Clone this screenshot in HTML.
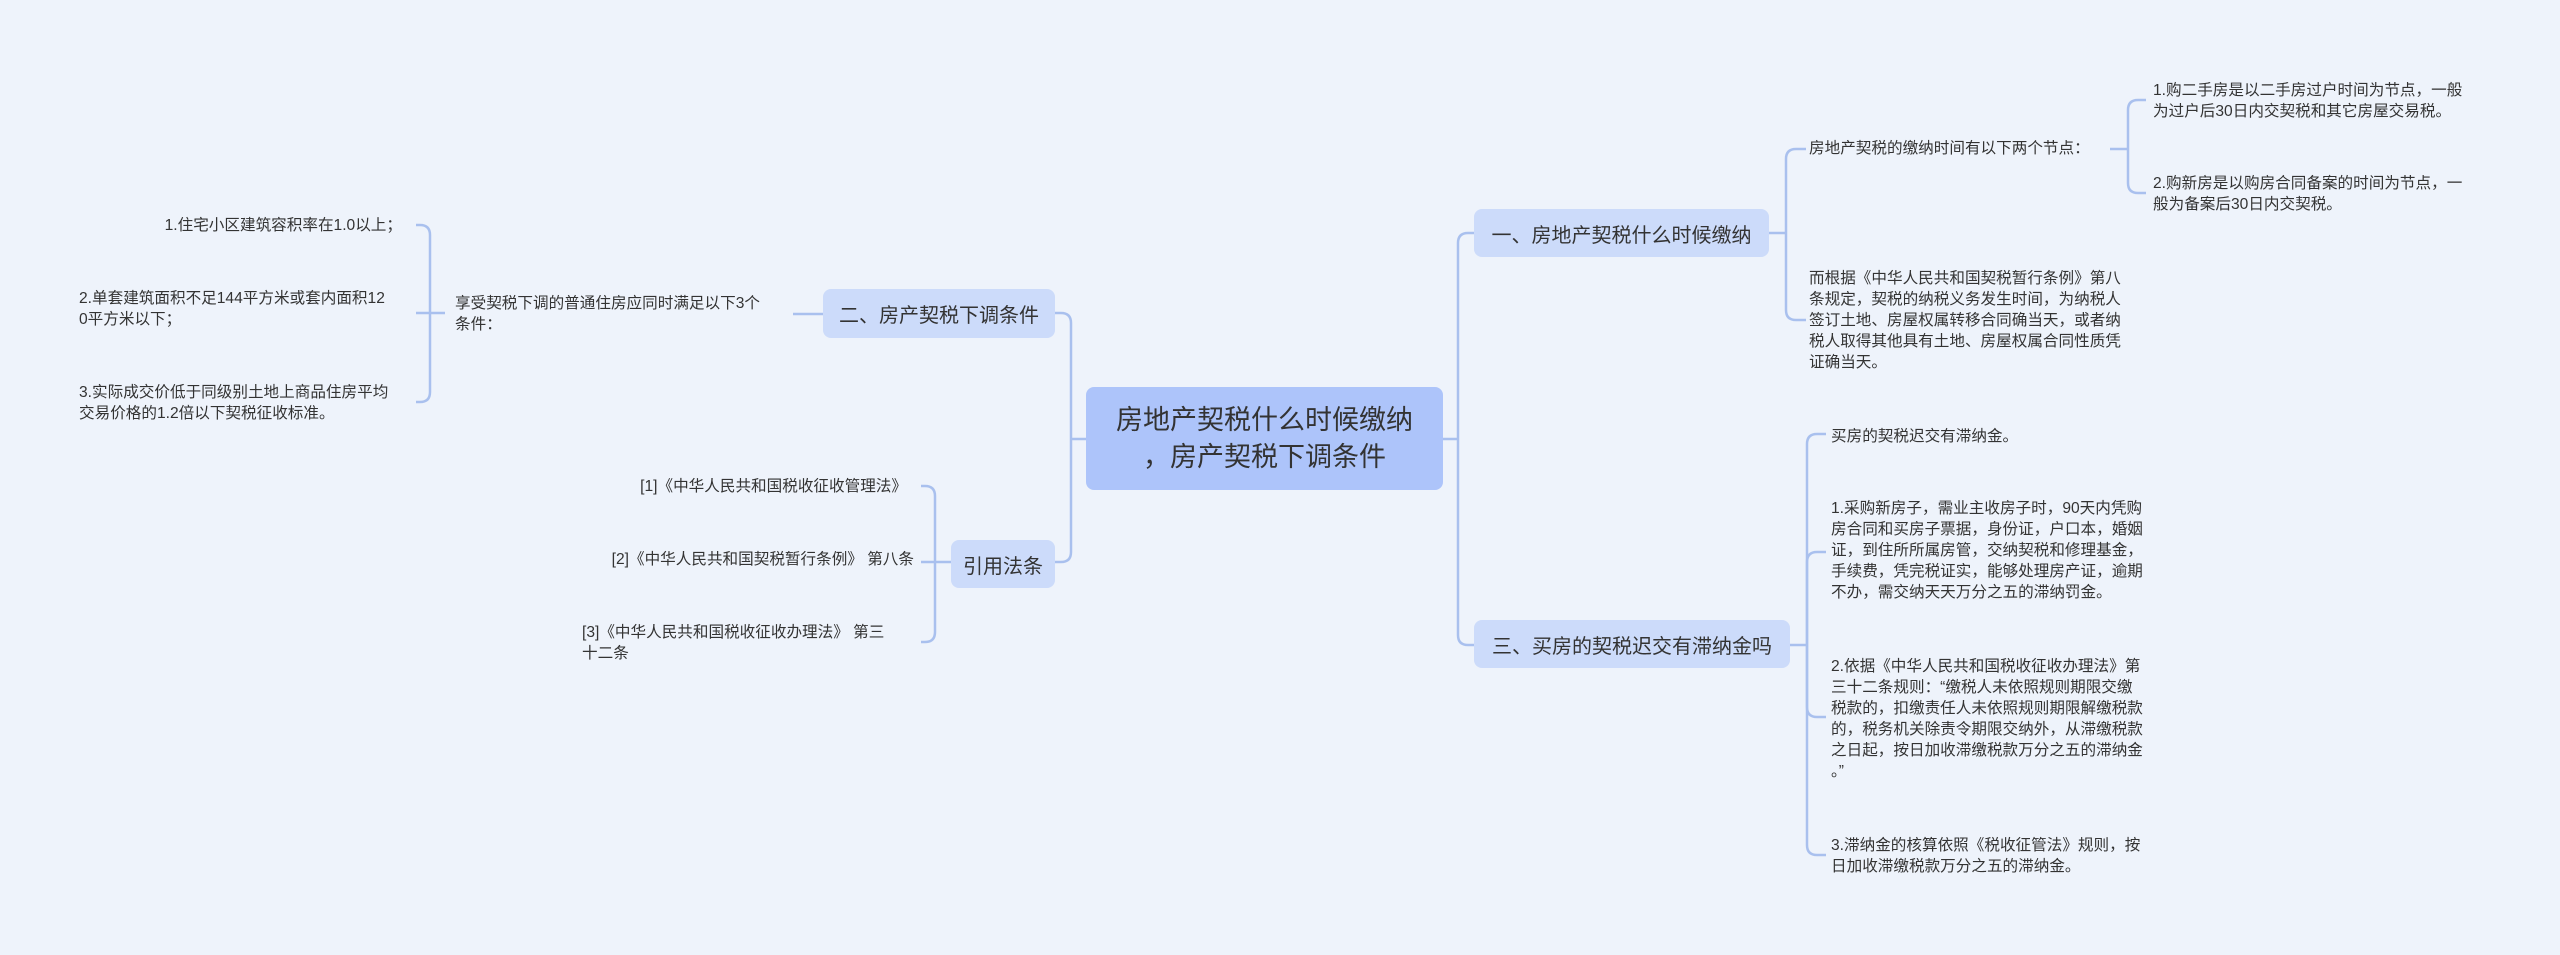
<!DOCTYPE html>
<html><head><meta charset="utf-8"><style>
html,body{margin:0;padding:0}
body{width:2560px;height:955px;background:#eef3fb;position:relative;overflow:hidden;font-family:"Liberation Sans","Noto Sans CJK SC",sans-serif;color:#333}
.t{position:absolute;font-size:15.6px;line-height:21px;white-space:nowrap}
.r{text-align:right}
.b{position:absolute;background:#ccdbfa;border-radius:8px;font-size:20px;color:#333;display:flex;align-items:center;justify-content:center;white-space:nowrap}
svg{position:absolute;left:0;top:0}
</style></head><body>
<svg width="2560" height="955" fill="none" stroke="#a9c0ee" stroke-width="2.5">
<path d="M1443,439 H1458"/>
<path d="M1458,439 V243 Q1458,233 1468,233 H1474"/>
<path d="M1458,439 V635 Q1458,645 1468,645 H1474"/>
<path d="M1086,439 H1071"/>
<path d="M1071,439 V323 Q1071,313 1061,313 H1055"/>
<path d="M1071,439 V552 Q1071,562 1061,562 H1055"/>
<path d="M1769,233 H1786"/>
<path d="M1786,233 V159 Q1786,149 1796,149 H1806"/>
<path d="M1786,233 V310 Q1786,320 1796,320 H1806"/>
<path d="M2110,149 H2128"/>
<path d="M2128,149 V110 Q2128,100 2138,100 H2146"/>
<path d="M2128,149 V183 Q2128,193 2138,193 H2146"/>
<path d="M1790,645 H1807"/>
<path d="M1807,645 V444 Q1807,434 1817,434 H1826"/>
<path d="M1807,645 V562 Q1807,552 1817,552 H1826"/>
<path d="M1807,645 V707 Q1807,717 1817,717 H1826"/>
<path d="M1807,645 V845 Q1807,855 1817,855 H1826"/>
<path d="M823,314 H793"/>
<path d="M445,313 H430"/>
<path d="M430,313 V235 Q430,225 420,225 H416"/>
<path d="M430,313 H416"/>
<path d="M430,313 V392 Q430,402 420,402 H416"/>
<path d="M951,562 H935"/>
<path d="M935,562 V496 Q935,486 925,486 H921"/>
<path d="M935,562 H921"/>
<path d="M935,562 V632 Q935,642 925,642 H921"/>
</svg>

<div class="b" style="left:1086px;top:387px;width:357px;height:103px;background:#adc4fa;font-size:27px;line-height:37px;text-align:center;flex-direction:column">房地产契税什么时候缴纳<br>，房产契税下调条件</div>
<div class="b" style="left:1474px;top:209px;width:295px;height:48px">一、房地产契税什么时候缴纳</div>
<div class="b" style="left:1474px;top:620px;width:316px;height:48px">三、买房的契税迟交有滞纳金吗</div>
<div class="b" style="left:823px;top:289px;width:232px;height:49px">二、房产契税下调条件</div>
<div class="b" style="left:951px;top:540px;width:104px;height:48px">引用法条</div>

<div class="t" style="left:1809px;top:138px">房地产契税的缴纳时间有以下两个节点：</div>
<div class="t" style="left:2153px;top:80px">1.购二手房是以二手房过户时间为节点，一般<br>为过户后30日内交契税和其它房屋交易税。</div>
<div class="t" style="left:2153px;top:173px">2.购新房是以购房合同备案的时间为节点，一<br>般为备案后30日内交契税。</div>
<div class="t" style="left:1809px;top:268px">而根据《中华人民共和国契税暂行条例》第八<br>条规定，契税的纳税义务发生时间，为纳税人<br>签订土地、房屋权属转移合同确当天，或者纳<br>税人取得其他具有土地、房屋权属合同性质凭<br>证确当天。</div>

<div class="t" style="left:1831px;top:426px">买房的契税迟交有滞纳金。</div>
<div class="t" style="left:1831px;top:498px">1.采购新房子，需业主收房子时，90天内凭购<br>房合同和买房子票据，身份证，户口本，婚姻<br>证，到住所所属房管，交纳契税和修理基金，<br>手续费，凭完税证实，能够处理房产证，逾期<br>不办，需交纳天天万分之五的滞纳罚金。</div>
<div class="t" style="left:1831px;top:656px">2.依据《中华人民共和国税收征收办理法》第<br>三十二条规则：“缴税人未依照规则期限交缴<br>税款的，扣缴责任人未依照规则期限解缴税款<br>的，税务机关除责令期限交纳外，从滞缴税款<br>之日起，按日加收滞缴税款万分之五的滞纳金<br>。”</div>
<div class="t" style="left:1831px;top:835px">3.滞纳金的核算依照《税收征管法》规则，按<br>日加收滞缴税款万分之五的滞纳金。</div>

<div class="t" style="left:455px;top:293px">享受契税下调的普通住房应同时满足以下3个<br>条件：</div>
<div class="t r" style="right:2158px;top:215px">1.住宅小区建筑容积率在1.0以上；</div>
<div class="t" style="left:79px;top:288px">2.单套建筑面积不足144平方米或套内面积12<br>0平方米以下；</div>
<div class="t" style="left:79px;top:382px">3.实际成交价低于同级别土地上商品住房平均<br>交易价格的1.2倍以下契税征收标准。</div>

<div class="t r" style="right:1653px;top:476px">[1]《中华人民共和国税收征收管理法》</div>
<div class="t r" style="right:1646px;top:549px">[2]《中华人民共和国契税暂行条例》 第八条</div>
<div class="t" style="left:582px;top:622px">[3]《中华人民共和国税收征收办理法》 第三<br>十二条</div>
</body></html>
